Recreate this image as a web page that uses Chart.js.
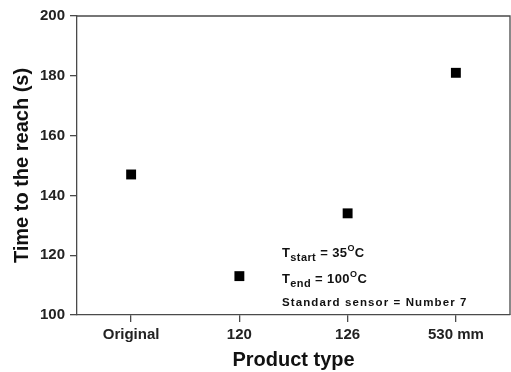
<!DOCTYPE html>
<html><head><meta charset="utf-8">
<script src="https://cdn.jsdelivr.net/npm/chart.js@4"></script>
<style>html,body{margin:0;padding:0;background:#fff}#wrap{width:511px;height:372px}</style>
</head><body><div id="wrap"><canvas id="c" width="511" height="372"></canvas></div>
<script>
const categories = ['Original', '120', '126', '530 mm'];
const timeValues = [147, 113, 134, 181];
const yTicks = [100, 120, 140, 160, 180, 200];
const xTitle = 'Product type';
const yTitle = 'Time to the reach (s)';
const noteLines = [
  [['T', 'n'], ['start', 'sub'], [' = 35', 'n'], ['O', 'sup'], ['C', 'n']],
  [['T', 'n'], ['end', 'sub'], [' = 100', 'n'], ['O', 'sup'], ['C', 'n']],
  [['Standard sensor = Number 7', 'n']]
];

const FONT = '"Liberation Sans", Arial, sans-serif';
const AX = '#4a4a4a';

const framePlugin = {
  id: 'frame',
  beforeDatasetsDraw(chart) {
    const {ctx, chartArea: a} = chart;
    ctx.save();
    ctx.strokeStyle = AX; ctx.lineWidth = 1.3;
    ctx.beginPath();
    ctx.moveTo(a.left, a.top); ctx.lineTo(a.right, a.top); ctx.lineTo(a.right, a.bottom);
    ctx.stroke();
    ctx.restore();
  },
  afterDraw(chart) {
    const {ctx} = chart;
    ctx.save();
    ctx.fillStyle = '#111';
    ctx.textBaseline = 'alphabetic';
    const x0 = 282;
    const baselines = [257, 283, 306];
    noteLines.forEach((parts, i) => {
      let x = x0;
      parts.forEach(([t, kind]) => {
        let size = 13, dy = 0;
        if (kind === 'sub') { size = 11; dy = 4; }
        if (kind === 'sup') { size = 9; dy = -6; }
        if (i === 2) size = 11.5;
        ctx.font = 'bold ' + size + 'px ' + FONT;
        ctx.letterSpacing = (i === 2) ? '1.1px' : '0.4px';
        ctx.fillText(t, x, baselines[i] + dy);
        x += ctx.measureText(t).width;
      });
    });
    ctx.restore();
  }
};

new Chart(document.getElementById('c'), {
  type: 'line',
  data: {
    labels: categories,
    datasets: [{
      data: timeValues,
      showLine: false,
      pointStyle: 'rect',
      pointRadius: 7,
      pointHoverRadius: 7,
      backgroundColor: '#000',
      borderColor: '#000',
      borderWidth: 0
    }]
  },
  options: {
    responsive: false,
    animation: false,
    devicePixelRatio: 1,
    layout: {autoPadding: false, padding: {top: 16, right: 1, left: 0, bottom: 0}},
    plugins: {legend: {display: false}, tooltip: {enabled: false}},
    scales: {
      x: {
        type: 'category',
        offset: true,
        grid: {display: true, drawOnChartArea: false, offset: false, tickLength: 7, color: AX, lineWidth: 1.3},
        border: {color: AX, width: 1.3},
        ticks: {color: '#222', padding: 4, font: {family: FONT, size: 15, weight: 'bold'}, maxRotation: 0},
        title: {display: true, text: xTitle, color: '#111', font: {family: FONT, size: 20, weight: 'bold'}, padding: {top: 0, bottom: 0}},
        afterFit(s) { s.height = 57; s.paddingLeft = 0; s.paddingRight = 0; }
      },
      y: {
        min: 100, max: 200,
        afterBuildTicks(s) { s.ticks = yTicks.map(v => ({value: v})); },
        grid: {display: true, drawOnChartArea: false, tickLength: 7, color: AX, lineWidth: 1.3},
        border: {color: AX, width: 1.3},
        ticks: {color: '#222', padding: 5, font: {family: FONT, size: 15, weight: 'bold'}},
        title: {display: true, text: yTitle, color: '#111', font: {family: FONT, size: 20, weight: 'bold'}, padding: {top: 10, bottom: 0}},
        afterFit(s) { s.width = 77; }
      }
    }
  },
  plugins: [framePlugin]
});
</script>
</body></html>
